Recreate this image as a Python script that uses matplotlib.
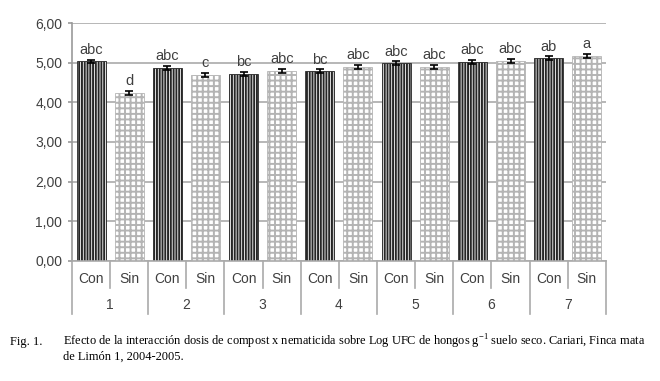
import numpy as np
import matplotlib
matplotlib.use("Agg")
import matplotlib.pyplot as plt

# Log UFC de hongos, Con / Sin nematicida por dosis de compost
dosis = ["1", "2", "3", "4", "5", "6", "7"]
trat = ["Con", "Sin"]
con_vals = [5.03, 4.86, 4.72, 4.78, 4.98, 5.02, 5.11]
sin_vals = [4.24, 4.70, 4.80, 4.89, 4.90, 5.05, 5.18]
con_err = [0.05, 0.05, 0.05, 0.05, 0.05, 0.05, 0.05]
sin_err = [0.05, 0.05, 0.05, 0.05, 0.05, 0.05, 0.05]
con_letras = ["abc", "abc", "bc", "bc", "abc", "abc", "ab"]
sin_letras = ["d", "c", "abc", "abc", "abc", "abc", "a"]
yticks = [0, 1, 2, 3, 4, 5, 6]

plt.rcParams["font.family"] = ["Liberation Sans", "DejaVu Sans"]
plt.rcParams["hatch.linewidth"] = 1.4
plt.rcParams["mathtext.fontset"] = "custom"
plt.rcParams["mathtext.rm"] = "Liberation Serif"

fig = plt.figure(figsize=(6.6, 3.81), dpi=100)
ax = fig.add_axes([0.109, 0.315, 0.809, 0.6246])

n = len(dosis)
x_con = np.arange(n) * 2
x_sin = x_con + 1
w = 0.76
gris = "#404040"

ax.bar(x_con, con_vals, w, color="white", edgecolor="#262626", hatch="||||||",
       linewidth=0.6, zorder=2)
ax.bar(x_sin, sin_vals, w, color="white", edgecolor="#b4b4b4", hatch="+++",
       linewidth=0.6, zorder=2)
ax.errorbar(x_con, con_vals, yerr=con_err, fmt="none", ecolor="black",
            capsize=3, elinewidth=1.2, capthick=1.2, zorder=3)
ax.errorbar(x_sin, sin_vals, yerr=sin_err, fmt="none", ecolor="black",
            capsize=3, elinewidth=1.2, capthick=1.2, zorder=3)

for xs, vals, errs, letras in [(x_con, con_vals, con_err, con_letras),
                               (x_sin, sin_vals, sin_err, sin_letras)]:
    for xi, v, e, t in zip(xs, vals, errs, letras):
        ax.text(xi, v + e + 0.07, t, ha="center", va="bottom", fontsize=10.5, color=gris)

ax.set_xlim(-0.5, 2 * n - 0.5)
ax.set_ylim(0, 6)
ax.set_yticks(yticks)
ax.set_yticklabels([f"{v:.2f}".replace(".", ",") for v in yticks])
ax.tick_params(axis="y", labelsize=10, colors="#999999", labelcolor=gris,
               length=3, width=1.2, pad=4)
ax.set_xticks([])
ax.yaxis.grid(True, color="#aaaaaa", linewidth=1.2, zorder=0)
ax.set_axisbelow(True)
for s in ["top", "right"]:
    ax.spines[s].set_visible(False)
ax.spines["left"].set_color("#999999")
ax.spines["left"].set_linewidth(1.2)
ax.spines["bottom"].set_color("#aaaaaa")
ax.spines["bottom"].set_linewidth(1.2)

# eje de categorias en dos niveles
tr = ax.get_xaxis_transform()
for i in range(n):
    ax.text(x_con[i], -0.076, trat[0], transform=tr, ha="center", va="center",
            fontsize=10, color=gris)
    ax.text(x_sin[i], -0.076, trat[1], transform=tr, ha="center", va="center",
            fontsize=10, color=gris)
    ax.text(x_con[i] + 0.5, -0.185, dosis[i], transform=tr, ha="center",
            va="center", fontsize=10, color=gris)
    ax.plot([x_con[i] + 0.5] * 2, [0, -0.113], transform=tr, color="#aaaaaa",
            lw=1.2, clip_on=False)
for b in np.arange(n + 1) * 2 - 0.5:
    ax.plot([b, b], [0, -0.223], transform=tr, color="#aaaaaa", lw=1.2,
            clip_on=False)

cap_font = dict(family="Liberation Serif", fontsize=8.9, color="black")
fig.text(10 / 660, 1 - 342 / 381, "Fig. 1.", va="center", **cap_font)
fig.text(63 / 660, 1 - 342 / 381,
         r"Efecto de la interacción dosis de compost x nematicida sobre Log UFC de hongos g$^{\mathregular{-1}}$ suelo seco. Cariari, Finca mata",
         va="center", **cap_font)
fig.text(63 / 660, 1 - 357 / 381, "de Limón 1, 2004-2005.", va="center", **cap_font)

fig.savefig("out.png", dpi=100)
